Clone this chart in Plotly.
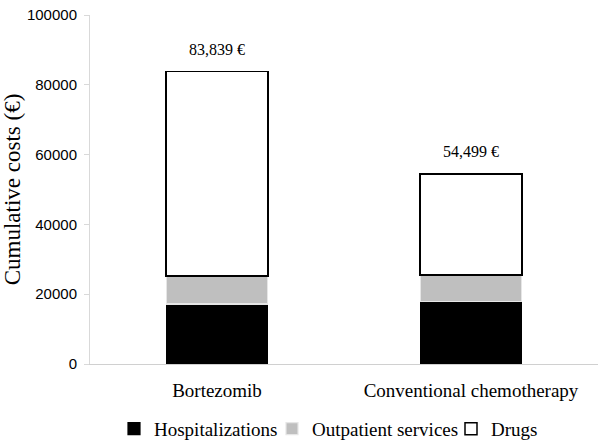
import plotly.graph_objects as go

categories = ["Bortezomib", "Conventional chemotherapy"]
hospitalizations = [17200, 17800]
outpatient = [8000, 7700]
drugs = [58639, 28999]
totals = [83839, 54499]
y_ticks = [0, 20000, 40000, 60000, 80000, 100000]

SERIF = "Liberation Serif, Times New Roman, serif"
SANS = "Liberation Sans, Arial, sans-serif"

fig = go.Figure()
fig.add_bar(x=categories, y=hospitalizations, name="Hospitalizations", legend="legend",
            marker=dict(color="#000000", line=dict(color="#000000", width=1.2)))
fig.add_bar(x=categories, y=outpatient, name="Outpatient services", legend="legend2",
            marker=dict(color="#bfbfbf", line=dict(color="#e6e6e6", width=1.2)))
fig.add_bar(x=categories, y=drugs, name="Drugs", legend="legend3",
            marker=dict(color="#ffffff", line=dict(color="#000000", width=1.5)))

for c, t in zip(categories, totals):
    fig.add_annotation(x=c, y=t, text=f"{t:,} €", showarrow=False, yshift=22,
                       yanchor="middle",
                       font=dict(family=SERIF, size=16, color="#000"))

def leg(xpx):
    return dict(orientation="h", x=xpx / 604, xanchor="left", xref="container",
                y=0.032, yanchor="middle", yref="container",
                font=dict(family=SERIF, size=19), itemwidth=30,
                bgcolor="rgba(0,0,0,0)")

fig.update_layout(
    barmode="stack",
    bargap=0.6,
    width=604, height=443,
    margin=dict(l=90, r=6, t=15, b=79),
    plot_bgcolor="white", paper_bgcolor="white",
    font=dict(family=SERIF, size=14, color="#000"),
    showlegend=True,
    legend=leg(114),
    legend2=leg(272),
    legend3=leg(451),
    xaxis=dict(showline=True, linecolor="#d0d0d0", linewidth=1, ticks="",
               automargin=False, ticklabelstandoff=9,
               tickfont=dict(family=SERIF, size=19)),
    yaxis=dict(range=[0, 100000], tickvals=y_ticks, ticktext=[str(v) for v in y_ticks],
               automargin=False,
               showgrid=False, zeroline=False, showline=True, linecolor="#d9d9d9",
               ticks="outside", ticklen=5, tickcolor="#d9d9d9", ticklabelstandoff=4,
               tickfont=dict(family=SANS, size=15),
               title=dict(text="Cumulative costs (€)", font=dict(family=SERIF, size=23), standoff=0)),
)

fig.write_html("out.html", config={"displayModeBar": False},
               post_script="document.body.style.margin='0';document.body.style.padding='0';")
